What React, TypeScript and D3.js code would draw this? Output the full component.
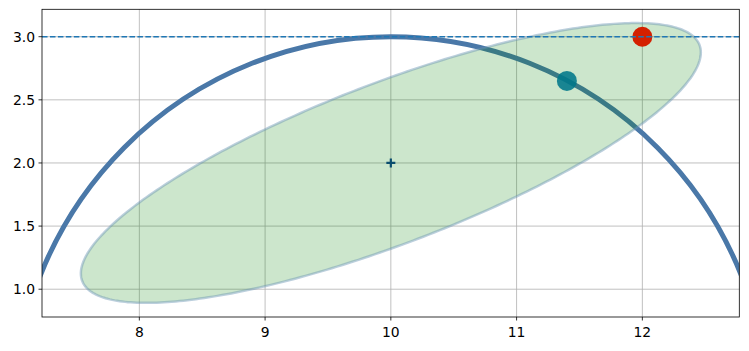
import React from "react";
import * as d3 from "d3";

const xTicks = [8, 9, 10, 11, 12];
const yTicks = [1.0, 1.5, 2.0, 2.5, 3.0];
const xDomain = [7.226, 12.771];
const yDomain = [0.78, 3.217];

// range circle (constraint), centered at landmark
const rangeCenter = [10, 0];
const rangeRadius = 3;

// covariance ellipse
const ellipseCenter = [10, 2];
const ellipseSigmas = [2.465, 1.108];
const ellipseCorr = 0.79;

const measurement = [12, 3];
const estimate = [11.4, 2.65];
const hLineY = 3;

const W = 749, H = 351;
const M = { left: 42, top: 9.3, right: 739.3, bottom: 317 };

export default function App() {
  const x = d3.scaleLinear().domain(xDomain).range([M.left, M.right]);
  const y = d3.scaleLinear().domain(yDomain).range([M.bottom, M.top]);

  const [a, b] = ellipseSigmas;
  const s = Math.sqrt(1 - ellipseCorr * ellipseCorr);
  const ts = d3.range(0, 361).map((d) => (d * Math.PI) / 180);
  const ellPath = d3
    .line<number>()
    .x((t) => x(ellipseCenter[0] + a * Math.cos(t)))
    .y((t) => y(ellipseCenter[1] + b * (ellipseCorr * Math.cos(t) + s * Math.sin(t))))(ts) + "Z";

  const font = "'DejaVu Sans', sans-serif";
  const cx = ellipseCenter[0], cy = ellipseCenter[1];

  return (
    <svg width={W} height={H} style={{ position: "absolute", left: 0, top: 0 }} fontFamily={font}>
      <defs>
        <clipPath id="ax">
          <rect x={M.left} y={M.top} width={M.right - M.left} height={M.bottom - M.top} />
        </clipPath>
      </defs>
      <rect width={W} height={H} fill="#fff" />
      {/* grid */}
      {xTicks.map((t) => (
        <line key={"gx" + t} x1={x(t)} x2={x(t)} y1={M.top} y2={M.bottom} stroke="#b0b0b0" strokeWidth={0.8} />
      ))}
      {yTicks.map((t) => (
        <line key={"gy" + t} x1={M.left} x2={M.right} y1={y(t)} y2={y(t)} stroke="#b0b0b0" strokeWidth={0.8} />
      ))}
      <g clipPath="url(#ax)">
        <ellipse
          cx={x(rangeCenter[0])}
          cy={y(rangeCenter[1])}
          rx={x(rangeCenter[0] + rangeRadius) - x(rangeCenter[0])}
          ry={y(rangeCenter[1]) - y(rangeCenter[1] + rangeRadius)}
          fill="none"
          stroke="#4a78a8"
          strokeWidth={5}
        />
        <path d={ellPath} fill="#008000" fillOpacity={0.2} stroke="#6a94b4" strokeOpacity={0.45} strokeWidth={2.5} />
        <line x1={x(cx) - 4.5} x2={x(cx) + 4.5} y1={y(cy)} y2={y(cy)} stroke="#0b4d6e" strokeWidth={2.2} />
        <line x1={x(cx)} x2={x(cx)} y1={y(cy) - 4.5} y2={y(cy) + 4.5} stroke="#0b4d6e" strokeWidth={2.2} />
        <circle cx={x(estimate[0])} cy={y(estimate[1])} r={10} fill="#00788a" fillOpacity={0.88} />
        <circle cx={x(measurement[0])} cy={y(measurement[1])} r={10} fill="#d42000" />
        <line x1={M.left} x2={M.right} y1={y(hLineY)} y2={y(hLineY)} stroke="#1f77b4" strokeWidth={1.5} strokeDasharray="5.55,2.4" />
      </g>
      {/* spines */}
      <rect x={M.left} y={M.top} width={M.right - M.left} height={M.bottom - M.top} fill="none" stroke="#000" strokeWidth={0.8} />
      {xTicks.map((t) => (
        <g key={"tx" + t}>
          <line x1={x(t)} x2={x(t)} y1={M.bottom} y2={M.bottom + 3.5} stroke="#000" strokeWidth={0.8} />
          <text x={x(t)} y={M.bottom + 20} textAnchor="middle" fontSize={13.9} fill="#000">{t}</text>
        </g>
      ))}
      {yTicks.map((t) => (
        <g key={"ty" + t}>
          <line x1={M.left - 3.5} x2={M.left} y1={y(t)} y2={y(t)} stroke="#000" strokeWidth={0.8} />
          <text x={M.left - 7} y={y(t)} dy="0.36em" textAnchor="end" fontSize={13.9} fill="#000">{t.toFixed(1)}</text>
        </g>
      ))}
    </svg>
  );
}
